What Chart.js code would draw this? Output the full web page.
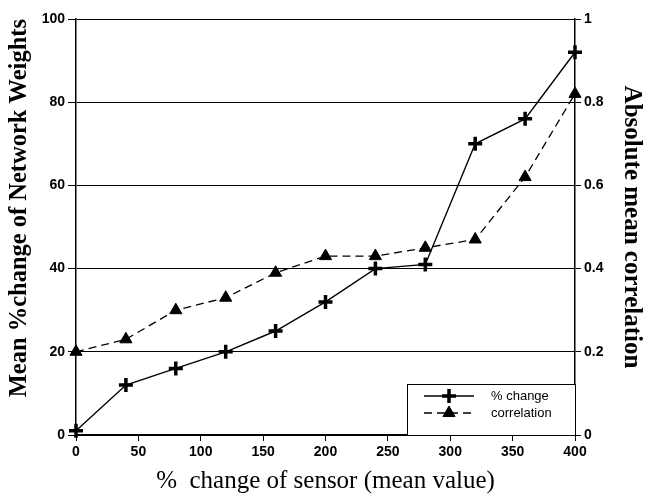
<!DOCTYPE html>
<html>
<head>
<meta charset="utf-8">
<script src="https://cdn.jsdelivr.net/npm/chart.js@4/dist/chart.umd.min.js"></script>
<style>
html,body{margin:0;padding:0;background:#fff;}
#wrap{width:646px;height:499px;position:relative;}
</style>
</head>
<body>
<div id="wrap"><canvas id="c" width="646" height="499"></canvas></div>
<script>
const sensorChange = [0, 40, 80, 120, 160, 200, 240, 280, 320, 360, 400];
const pctChange = [1, 12, 16, 20, 25, 32, 40, 41, 70, 76, 92];
const correlation = [0.20, 0.23, 0.30, 0.33, 0.39, 0.43, 0.43, 0.45, 0.47, 0.62, 0.82];
const seriesNames = ['% change', 'correlation'];
const xTitle = '%  change of sensor (mean value)';
const yLeftTitle = 'Mean %change of Network Weights';
const yRightTitle = 'Absolute mean correlation';

const tickFont = {family: '"Liberation Sans", Arial, sans-serif', size: 14, weight: 'bold'};
const serif = '"Liberation Serif", "Times New Roman", serif';

const legendPlugin = {
  id: 'insideLegend',
  afterDraw(chart) {
    const ctx = chart.ctx;
    const ca = chart.chartArea;
    const x0 = Math.round(ca.left + (ca.right - ca.left) * (265/400));
    const y0 = Math.round(ca.bottom - 51);
    ctx.save();
    ctx.fillStyle = '#fff';
    ctx.fillRect(x0, y0, ca.right - x0, ca.bottom - y0);
    ctx.strokeStyle = '#000';
    ctx.lineWidth = 1;
    ctx.strokeRect(x0 + 0.5, y0 + 0.5, ca.right - x0, ca.bottom - y0);
    const rows = [
      {y: y0 + 12, dash: [], style: 'cross', r: 7, bw: 3.5, label: seriesNames[0]},
      {y: y0 + 29, dash: [8, 5], style: 'triangle', r: 7, bw: 1, label: seriesNames[1]}
    ];
    rows.forEach(rw => {
      ctx.setLineDash(rw.dash);
      ctx.lineWidth = 1.3;
      ctx.strokeStyle = '#000';
      ctx.beginPath();
      ctx.moveTo(x0 + 17, rw.y);
      ctx.lineTo(x0 + 67, rw.y);
      ctx.stroke();
      ctx.setLineDash([]);
      ctx.fillStyle = '#000';
      ctx.lineWidth = rw.bw;
      Chart.helpers.drawPoint(ctx, {pointStyle: rw.style, radius: rw.r, borderWidth: rw.bw, rotation: 0}, x0 + 42, rw.y);
      ctx.font = '13px "Liberation Sans", Arial, sans-serif';
      ctx.textBaseline = 'middle';
      ctx.textAlign = 'left';
      ctx.fillText(rw.label, x0 + 84, rw.y);
    });
    ctx.restore();
  }
};

new Chart(document.getElementById('c'), {
  type: 'line',
  data: {
    datasets: [
      {
        label: seriesNames[0],
        data: sensorChange.map((x, i) => ({x: x, y: pctChange[i]})),
        yAxisID: 'y',
        borderColor: '#000',
        backgroundColor: '#000',
        borderWidth: 1.4,
        pointStyle: 'cross',
        pointRadius: 7,
        pointBorderWidth: 3.5,
        tension: 0,
        clip: false
      },
      {
        label: seriesNames[1],
        data: sensorChange.map((x, i) => ({x: x, y: correlation[i]})),
        yAxisID: 'y1',
        borderColor: '#000',
        backgroundColor: '#000',
        borderWidth: 1.3,
        borderDash: [8, 5],
        pointStyle: 'triangle',
        pointRadius: 7,
        pointBorderWidth: 1,
        tension: 0,
        clip: false
      }
    ]
  },
  options: {
    responsive: false,
    animation: false,
    devicePixelRatio: 1,
    layout: {padding: {top: 19, left: 0, right: 0, bottom: 0}},
    plugins: {legend: {display: false}, tooltip: {enabled: false}},
    scales: {
      x: {
        type: 'linear', min: 0, max: 400,
        ticks: {stepSize: 50, color: '#000', font: tickFont, padding: 3, maxRotation: 0},
        grid: {display: true, drawOnChartArea: false, color: '#000', tickLength: 6, lineWidth: 1},
        border: {display: true, color: '#000', width: 1.5},
        title: {display: true, text: xTitle, color: '#000', font: {family: serif, size: 25, weight: 'normal'}, padding: {top: 0, bottom: 3}},
        afterFit(s) { s.height = 64; }
      },
      y: {
        position: 'left', min: 0, max: 100,
        ticks: {stepSize: 20, color: '#000', font: tickFont, padding: 3},
        grid: {display: true, drawOnChartArea: true, color: '#000', tickLength: 8, lineWidth: 1},
        border: {display: true, color: '#000', width: 1.5},
        title: {display: true, text: yLeftTitle, align: 'end', color: '#000', font: {family: serif, size: 24.5, weight: 'bold'}, padding: {top: 5, bottom: 0}},
        afterFit(s) { s.width = 76; }
      },
      y1: {
        position: 'right', min: 0, max: 1,
        ticks: {stepSize: 0.2, color: '#000', font: tickFont, padding: 3,
          callback: v => String(Number(v.toFixed(1)))},
        grid: {display: true, drawOnChartArea: false, color: '#000', tickLength: 6, lineWidth: 1},
        border: {display: true, color: '#000', width: 1.5},
        title: {display: true, text: yRightTitle, color: '#000', font: {family: serif, size: 25, weight: 'bold'}, padding: {top: 0, bottom: 0}},
        afterFit(s) { s.width = 71; }
      }
    }
  },
  plugins: [legendPlugin]
});
</script>
</body>
</html>
